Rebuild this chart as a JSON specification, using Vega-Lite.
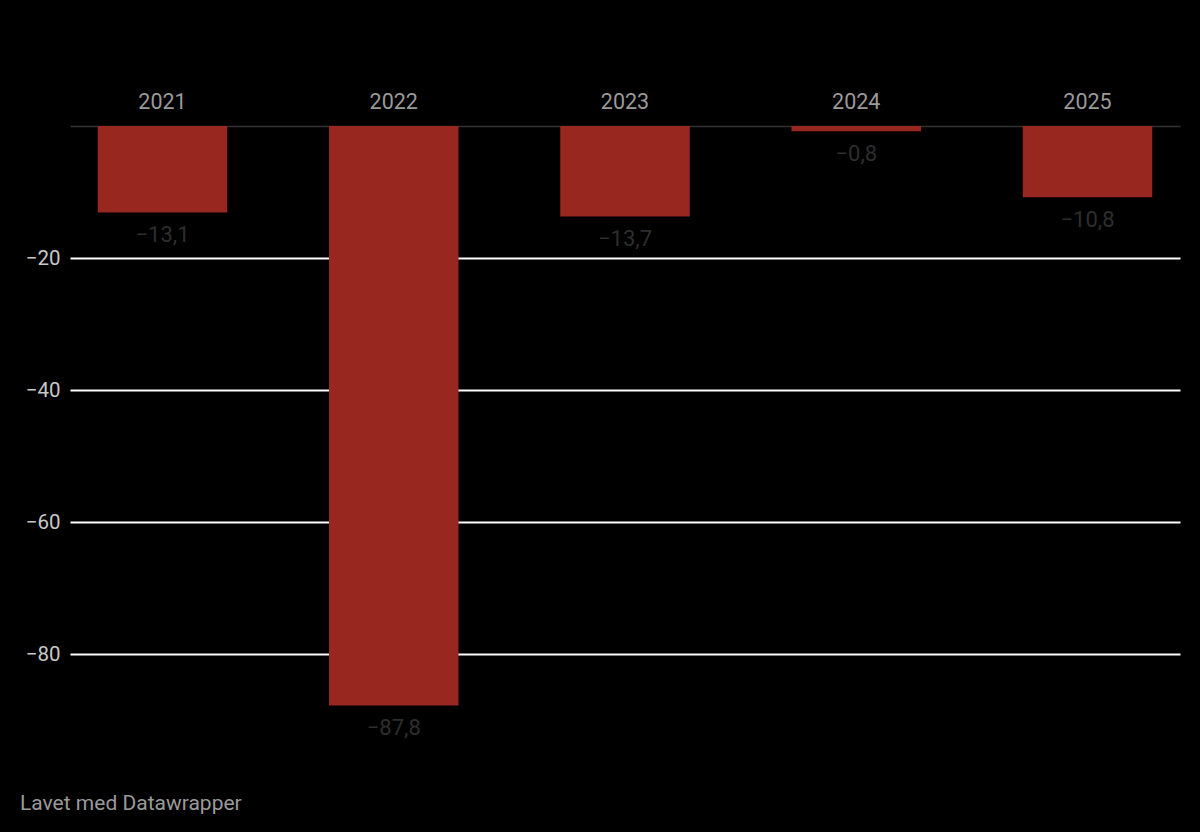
{
  "$schema": "https://vega.github.io/schema/vega-lite/v6.json",
  "width": 1110,
  "height": 594,
  "autosize": {"type": "none"},
  "padding": {"left": 70, "top": 126, "right": 20, "bottom": 112},
  "background": "#000000",
  "config": {
    "view": {"stroke": null},
    "font": "Roboto",
    "locale": {"number": {"decimal": ",", "thousands": ".", "grouping": [3], "currency": ["", " kr"], "minus": "\u2212"}}
  },
  "title": {
    "text": "Lavet med Datawrapper",
    "orient": "bottom",
    "anchor": "start",
    "frame": "group",
    "dx": -50,
    "offset": 54,
    "font": "Roboto",
    "fontSize": 21,
    "fontWeight": "normal",
    "color": "#9a9a9a"
  },
  "data": {
    "values": [
      {"year": "2021", "value": -13.1},
      {"year": "2022", "value": -87.8},
      {"year": "2023", "value": -13.7},
      {"year": "2024", "value": -0.8},
      {"year": "2025", "value": -10.8}
    ]
  },
  "encoding": {
    "x": {
      "field": "year",
      "type": "nominal",
      "scale": {"paddingInner": 0.44, "paddingOuter": 0.12},
      "axis": {
        "orient": "top",
        "title": null,
        "labelAngle": 0,
        "ticks": false,
        "domain": true,
        "domainColor": "#333333",
        "domainWidth": 1.5,
        "labelColor": "#9a9a9a",
        "labelFont": "Roboto",
        "labelFontSize": 21.5,
        "labelPadding": 13
      }
    }
  },
  "layer": [
    {
      "mark": {"type": "bar", "color": "#98271f"},
      "encoding": {
        "y": {
          "field": "value",
          "type": "quantitative",
          "scale": {"domain": [-90, 0], "nice": false},
          "axis": {
            "title": null,
            "values": [-20, -40, -60, -80],
            "format": "d",
            "ticks": false,
            "domain": false,
            "grid": true,
            "gridColor": "#ffffff",
            "gridWidth": 2,
            "gridOpacity": 1,
            "labelColor": "#c8c8c8",
            "labelFont": "Roboto",
            "labelFontSize": 20.5,
            "labelPadding": 10
          }
        }
      }
    },
    {
      "mark": {"type": "text", "baseline": "top", "dy": 13, "font": "Roboto", "fontSize": 22, "color": "#2e2e2e"},
      "encoding": {
        "y": {"field": "value", "type": "quantitative"},
        "text": {"field": "value", "type": "quantitative", "format": ".1f"}
      }
    }
  ]
}
